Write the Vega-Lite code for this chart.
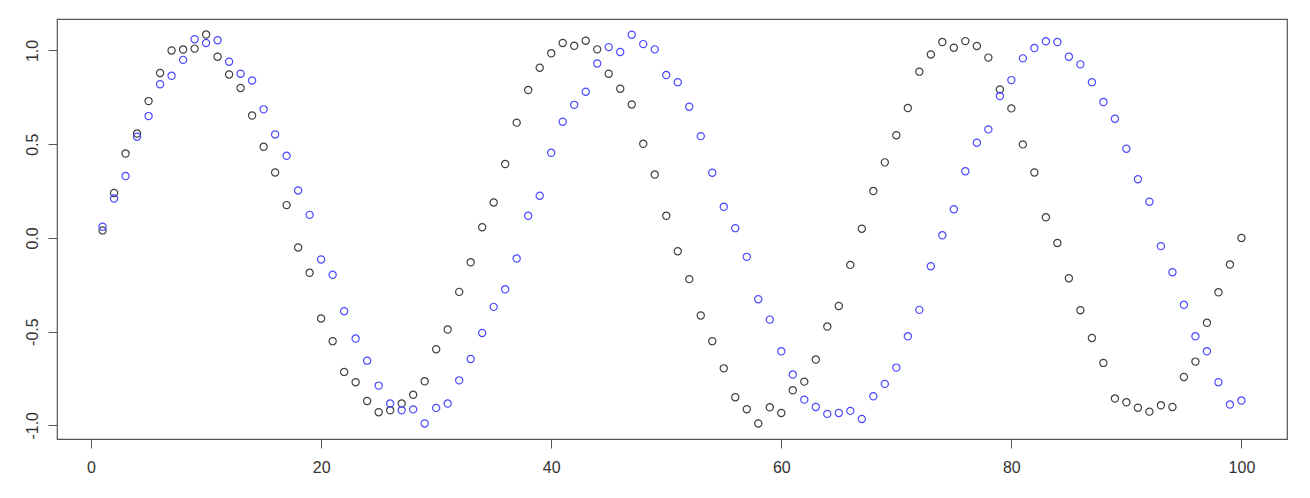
{
  "$schema": "https://vega.github.io/schema/vega-lite/v6.json",
  "width": 1230,
  "height": 420,
  "autosize": "none",
  "padding": {"left": 57, "top": 19, "right": 23, "bottom": 59},
  "background": "white",
  "config": {
    "view": {"stroke": "#555555", "strokeWidth": 1.2},
    "font": "Liberation Sans"
  },
  "data": {
    "values": [
      {"i": 1, "black": 0.04, "blue": 0.06},
      {"i": 2, "black": 0.24, "blue": 0.21},
      {"i": 3, "black": 0.45, "blue": 0.33},
      {"i": 4, "black": 0.557, "blue": 0.54},
      {"i": 5, "black": 0.73, "blue": 0.65},
      {"i": 6, "black": 0.88, "blue": 0.82},
      {"i": 7, "black": 1.0, "blue": 0.865},
      {"i": 8, "black": 1.005, "blue": 0.95},
      {"i": 9, "black": 1.01, "blue": 1.06},
      {"i": 10, "black": 1.085, "blue": 1.04},
      {"i": 11, "black": 0.967, "blue": 1.055},
      {"i": 12, "black": 0.872, "blue": 0.94},
      {"i": 13, "black": 0.8, "blue": 0.876},
      {"i": 14, "black": 0.653, "blue": 0.84},
      {"i": 15, "black": 0.486, "blue": 0.686},
      {"i": 16, "black": 0.349, "blue": 0.552},
      {"i": 17, "black": 0.175, "blue": 0.438},
      {"i": 18, "black": -0.051, "blue": 0.253},
      {"i": 19, "black": -0.186, "blue": 0.123},
      {"i": 20, "black": -0.43, "blue": -0.115},
      {"i": 21, "black": -0.551, "blue": -0.197},
      {"i": 22, "black": -0.715, "blue": -0.391},
      {"i": 23, "black": -0.77, "blue": -0.537},
      {"i": 24, "black": -0.87, "blue": -0.655},
      {"i": 25, "black": -0.93, "blue": -0.788},
      {"i": 26, "black": -0.92, "blue": -0.884},
      {"i": 27, "black": -0.884, "blue": -0.92},
      {"i": 28, "black": -0.837, "blue": -0.915},
      {"i": 29, "black": -0.765, "blue": -0.99},
      {"i": 30, "black": -0.594, "blue": -0.907},
      {"i": 31, "black": -0.489, "blue": -0.884},
      {"i": 32, "black": -0.288, "blue": -0.76},
      {"i": 33, "black": -0.13, "blue": -0.646},
      {"i": 34, "black": 0.057, "blue": -0.507},
      {"i": 35, "black": 0.189, "blue": -0.368},
      {"i": 36, "black": 0.394, "blue": -0.274},
      {"i": 37, "black": 0.615, "blue": -0.11},
      {"i": 38, "black": 0.789, "blue": 0.118},
      {"i": 39, "black": 0.908, "blue": 0.225},
      {"i": 40, "black": 0.985, "blue": 0.454},
      {"i": 41, "black": 1.04, "blue": 0.62},
      {"i": 42, "black": 1.025, "blue": 0.71},
      {"i": 43, "black": 1.052, "blue": 0.78},
      {"i": 44, "black": 1.006, "blue": 0.931},
      {"i": 45, "black": 0.876, "blue": 1.018},
      {"i": 46, "black": 0.796, "blue": 0.992},
      {"i": 47, "black": 0.712, "blue": 1.084},
      {"i": 48, "black": 0.502, "blue": 1.034},
      {"i": 49, "black": 0.338, "blue": 1.006},
      {"i": 50, "black": 0.118, "blue": 0.869},
      {"i": 51, "black": -0.071, "blue": 0.831},
      {"i": 52, "black": -0.22, "blue": 0.7},
      {"i": 53, "black": -0.414, "blue": 0.543},
      {"i": 54, "black": -0.551, "blue": 0.348},
      {"i": 55, "black": -0.696, "blue": 0.166},
      {"i": 56, "black": -0.85, "blue": 0.052},
      {"i": 57, "black": -0.914, "blue": -0.101},
      {"i": 58, "black": -0.99, "blue": -0.327},
      {"i": 59, "black": -0.904, "blue": -0.436},
      {"i": 60, "black": -0.934, "blue": -0.605},
      {"i": 61, "black": -0.813, "blue": -0.729},
      {"i": 62, "black": -0.767, "blue": -0.863},
      {"i": 63, "black": -0.649, "blue": -0.902},
      {"i": 64, "black": -0.473, "blue": -0.939},
      {"i": 65, "black": -0.363, "blue": -0.934},
      {"i": 66, "black": -0.144, "blue": -0.923},
      {"i": 67, "black": 0.049, "blue": -0.966},
      {"i": 68, "black": 0.25, "blue": -0.845},
      {"i": 69, "black": 0.403, "blue": -0.779},
      {"i": 70, "black": 0.548, "blue": -0.692},
      {"i": 71, "black": 0.693, "blue": -0.525},
      {"i": 72, "black": 0.887, "blue": -0.384},
      {"i": 73, "black": 0.979, "blue": -0.151},
      {"i": 74, "black": 1.045, "blue": 0.014},
      {"i": 75, "black": 1.015, "blue": 0.153},
      {"i": 76, "black": 1.05, "blue": 0.356},
      {"i": 77, "black": 1.024, "blue": 0.508},
      {"i": 78, "black": 0.962, "blue": 0.579},
      {"i": 79, "black": 0.792, "blue": 0.757},
      {"i": 80, "black": 0.691, "blue": 0.842},
      {"i": 81, "black": 0.499, "blue": 0.958},
      {"i": 82, "black": 0.349, "blue": 1.013},
      {"i": 83, "black": 0.11, "blue": 1.049},
      {"i": 84, "black": -0.027, "blue": 1.045},
      {"i": 85, "black": -0.215, "blue": 0.967},
      {"i": 86, "black": -0.386, "blue": 0.926},
      {"i": 87, "black": -0.534, "blue": 0.831},
      {"i": 88, "black": -0.667, "blue": 0.725},
      {"i": 89, "black": -0.857, "blue": 0.636},
      {"i": 90, "black": -0.877, "blue": 0.476},
      {"i": 91, "black": -0.906, "blue": 0.313},
      {"i": 92, "black": -0.927, "blue": 0.193},
      {"i": 93, "black": -0.893, "blue": -0.044},
      {"i": 94, "black": -0.902, "blue": -0.183},
      {"i": 95, "black": -0.742, "blue": -0.357},
      {"i": 96, "black": -0.66, "blue": -0.525},
      {"i": 97, "black": -0.453, "blue": -0.605},
      {"i": 98, "black": -0.29, "blue": -0.77},
      {"i": 99, "black": -0.142, "blue": -0.889},
      {"i": 100, "black": 0.0, "blue": -0.868}
    ]
  },
  "transform": [{"fold": ["black", "blue"], "as": ["series", "value"]}],
  "mark": {"type": "point", "filled": false, "size": 52, "strokeWidth": 1.2, "opacity": 1},
  "encoding": {
    "x": {
      "field": "i",
      "type": "quantitative",
      "scale": {"domain": [-2.96, 103.96], "nice": false, "zero": false},
      "axis": {
        "values": [0, 20, 40, 60, 80, 100],
        "format": "d",
        "title": null,
        "grid": false,
        "domain": false,
        "ticks": true,
        "tickSize": 9,
        "tickColor": "#555555",
        "tickWidth": 1,
        "labelFontSize": 16,
        "labelColor": "#333333",
        "labelPadding": 11,
        "labelFlush": false,
        "labelOverlap": false
      }
    },
    "y": {
      "field": "value",
      "type": "quantitative",
      "scale": {"domain": [-1.073, 1.168], "nice": false, "zero": false},
      "axis": {
        "values": [-1, -0.5, 0, 0.5, 1],
        "labelExpr": "replace(format(datum.value, '.1f'), '\u2212', '-')",
        "title": null,
        "grid": false,
        "domain": false,
        "tickSize": 9,
        "tickColor": "#555555",
        "tickWidth": 1,
        "labelFontSize": 16,
        "labelColor": "#333333",
        "labelAngle": -90,
        "labelAlign": "center",
        "labelBaseline": "bottom",
        "labelPadding": 8,
        "labelFlush": false,
        "labelOverlap": false
      }
    },
    "color": {
      "field": "series",
      "type": "nominal",
      "scale": {"domain": ["black", "blue"], "range": ["#404040", "#4a4aff"]},
      "legend": null
    },
    "order": {"field": "series", "type": "nominal"}
  }
}
